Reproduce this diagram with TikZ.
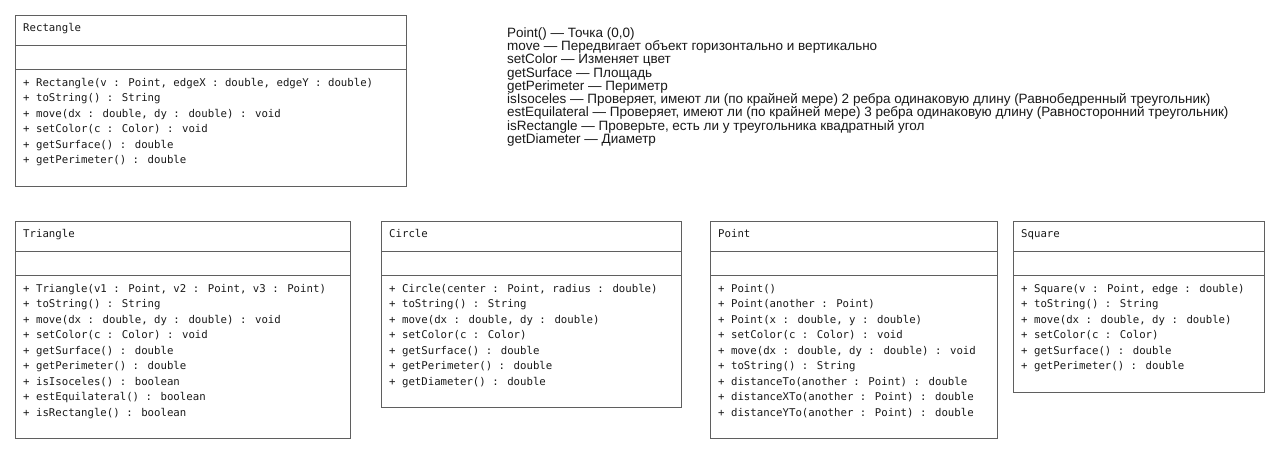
\documentclass[tikz,border=0pt]{standalone}
\usepackage{fontspec}
\setmainfont{Liberation Sans}
\newfontfamily\umlfont{DejaVu Sans Mono}
\definecolor{boxgray}{RGB}{95,95,95}
\definecolor{textgray}{RGB}{25,25,25}
\tikzset{
    classbox/.style={draw=boxgray, line width=1pt, anchor=north west, inner sep=0pt},
    classline/.style={draw=boxgray, line width=1pt},
    classtext/.style={anchor=north west, inner sep=0pt, align=left, text=textgray,
        font=\umlfont\fontsize{10.7}{15.5}\selectfont},
    notetext/.style={anchor=north west, inner sep=0pt, align=left, text=textgray,
        font=\fontsize{13.5}{13.3}\selectfont},
}
\newcommand\umlclass[7]{%
    \node[classbox, minimum width=#4pt, minimum height=#5pt] (#1) at (#2,#3) {};
    \draw[classline] ([yshift=-31pt]#1.north west) -- ([yshift=-31pt]#1.north east);
    \draw[classline] ([yshift=-55pt]#1.north west) -- ([yshift=-55pt]#1.north east);
    \node[classtext] (#1-name) at ([xshift=8pt,yshift=-6pt]#1.north west) {\rule{0pt}{10pt}#6};
    \node[classtext] (#1-ops) at ([xshift=8pt,yshift=-61pt]#1.north west) {\rule{0pt}{10pt}#7};
}
\begin{document}
\begin{tikzpicture}[x=1pt, y=-1pt]
            \useasboundingbox[fill=white] (0,0) rectangle (1280,454);
            \umlclass{rectangle}{15}{15}{391}{171}{Rectangle}{%
                + Rectangle(v : Point, edgeX : double, edgeY : double)\\
                + toString() : String\\
                + move(dx : double, dy : double) : void\\
                + setColor(c : Color) : void\\
                + getSurface() : double\\
                + getPerimeter() : double}
            \umlclass{triangle}{15}{221}{335}{217}{Triangle}{%
                + Triangle(v1 : Point, v2 : Point, v3 : Point)\\
                + toString() : String\\
                + move(dx : double, dy : double) : void\\
                + setColor(c : Color) : void\\
                + getSurface() : double\\
                + getPerimeter() : double\\
                + isIsoceles() : boolean\\
                + estEquilateral() : boolean\\
                + isRectangle() : boolean}
            \umlclass{circle}{381}{221}{300}{186}{Circle}{%
                + Circle(center : Point, radius : double)\\
                + toString() : String\\
                + move(dx : double, dy : double)\\
                + setColor(c : Color)\\
                + getSurface() : double\\
                + getPerimeter() : double\\
                + getDiameter() : double}
            \umlclass{point}{710}{221}{287}{217}{Point}{%
                + Point()\\
                + Point(another : Point)\\
                + Point(x : double, y : double)\\
                + setColor(c : Color) : void\\
                + move(dx : double, dy : double) : void\\
                + toString() : String\\
                + distanceTo(another : Point) : double\\
                + distanceXTo(another : Point) : double\\
                + distanceYTo(another : Point) : double}
            \umlclass{square}{1013}{221}{251}{171}{Square}{%
                + Square(v : Point, edge : double)\\
                + toString() : String\\
                + move(dx : double, dy : double)\\
                + setColor(c : Color)\\
                + getSurface() : double\\
                + getPerimeter() : double}
            \node[notetext] (notes) at (507,25) {\rule{0pt}{12pt}%
                Point() — Точка (0,0)\\
                move — Передвигает объект горизонтально и вертикально\\
                setColor — Изменяет цвет\\
                getSurface — Площадь\\
                getPerimeter — Периметр\\
                isIsoceles — Проверяет, имеют ли (по крайней мере) 2 ребра одинаковую длину (Равнобедренный треугольник)\\
                estEquilateral — Проверяет, имеют ли (по крайней мере) 3 ребра одинаковую длину (Равносторонний треугольник)\\
                isRectangle — Проверьте, есть ли у треугольника квадратный угол\\
                getDiameter — Диаметр};
\end{tikzpicture}
\end{document}
